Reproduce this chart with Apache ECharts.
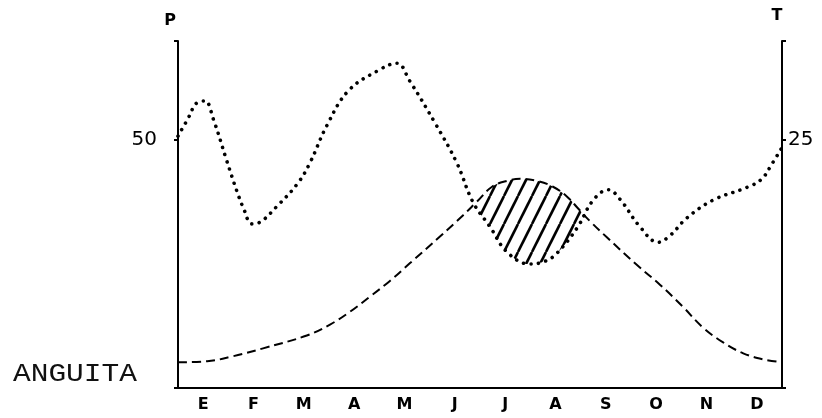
<!DOCTYPE html>
<html><head><meta charset="utf-8">
<script src="https://cdn.jsdelivr.net/npm/echarts@6/dist/echarts.min.js"></script>
<style>html,body{margin:0;padding:0;background:#fff}#c{width:822px;height:418px}</style>
</head><body><div id="c"></div>
<script>
const months = ['E','F','M','A','M','J','J','A','S','O','N','D'];
const stationName = 'ANGUITA';
const leftTickLabels = [50];
const rightTickLabels = [25];
// precipitation (mm): [month position, value]
const precipitation = [
 [0, 50.8], [0.18, 54.0], [0.40, 57.7], [0.54, 57.9], [0.70, 54.3], [0.97, 45.8], [1.17, 39.7],
 [1.30, 36.3], [1.47, 33.1], [1.62, 33.4], [1.97, 36.7], [2.38, 41.3], [2.62, 45.4], [2.96, 53.0],
 [3.38, 59.9], [3.95, 63.9], [4.35, 65.5], [4.60, 62.0], [5.11, 53.4], [5.54, 45.4], [5.86, 37.5],
 [6.20, 32.5], [6.54, 27.4], [6.99, 25.0], [7.30, 25.6], [7.53, 27.2], [7.93, 32.3], [8.25, 37.9],
 [8.55, 40.0], [8.78, 38.1], [9.18, 32.5], [9.54, 29.4], [9.78, 30.8], [10.11, 34.3], [10.63, 37.9],
 [11.31, 40.5], [11.60, 42.2], [11.80, 45.2], [12, 48.5]
];
// temperature (°C): [month position, value]
const temperature = [
 [0, 2.6], [0.58, 2.7], [1.09, 3.2], [1.69, 4.0], [2.56, 5.3], [3.02, 6.4], [3.42, 7.7], [3.81, 9.2],
 [4.21, 10.8], [4.61, 12.6], [5.21, 15.3], [5.66, 17.4], [5.94, 18.8], [6.24, 20.3], [6.54, 20.9],
 [6.80, 21.1], [7.13, 20.9], [7.45, 20.3], [7.73, 19.3], [7.95, 18.1], [8.19, 16.8], [8.52, 15.2],
 [9.12, 12.4], [9.58, 10.4], [10.03, 8.2], [10.43, 6.1], [10.83, 4.6], [11.23, 3.5], [11.62, 2.9], [12, 2.6]
];

function hatch(){
  const w = 14, h = 28;
  const c = document.createElement('canvas'); c.width = w; c.height = h;
  const g = c.getContext('2d');
  g.fillStyle = '#fff'; g.fillRect(0, 0, w, h);
  g.strokeStyle = '#000'; g.lineWidth = 2.6;
  for (const dx of [-w, 0, w]) { g.beginPath(); g.moveTo(dx, h); g.lineTo(dx + w, 0); g.stroke(); }
  return c;
}

const chart = echarts.init(document.getElementById('c'), null, {renderer: 'canvas'});
const axisCol = '#000';
chart.setOption({
  animation: false,
  backgroundColor: '#fff',
  grid: {left: 178, right: 40, top: 41, bottom: 30},
  graphic: [{
    type: 'text', left: 13, top: 362, scaleX: 1.18,
    style: {text: stationName, font: '25px "Liberation Mono"', fill: '#111'}
  }],
  xAxis: [
    {type: 'category', data: months, boundaryGap: true, z: 10,
     axisLine: {lineStyle: {color: axisCol, width: 2}},
     axisTick: {alignWithLabel: true, inside: true, length: 4, lineStyle: {color: axisCol, width: 2}},
     axisLabel: {color: '#000', fontWeight: 'bold', fontSize: 16, margin: 9, fontFamily: 'DejaVu Sans'}},
    {type: 'value', min: 0, max: 12, show: false}
  ],
  yAxis: [
    {type: 'value', min: 0, max: 70, interval: 50, position: 'left', name: 'P', nameLocation: 'end', nameGap: 12, z: 10,
     nameTextStyle: {color: '#000', fontSize: 16, fontWeight: 'bold', fontFamily: 'DejaVu Sans', align: 'center', padding: [0, 16, 0, 0]},
     axisLine: {show: true, lineStyle: {color: axisCol, width: 2}},
     axisTick: {show: true, length: 4, lineStyle: {color: axisCol, width: 2}},
     splitLine: {show: false},
     axisLabel: {color: '#000', fontSize: 20, margin: 21, fontFamily: 'DejaVu Sans',
                 formatter: v => leftTickLabels.includes(v) ? String(v) : ''}},
    {type: 'value', min: 0, max: 35, interval: 25, position: 'right', name: 'T', nameLocation: 'end', nameGap: 17, z: 10,
     nameTextStyle: {color: '#000', fontSize: 16, fontWeight: 'bold', fontFamily: 'DejaVu Sans', align: 'center', padding: [0, 10, 0, 0]},
     axisLine: {show: true, lineStyle: {color: axisCol, width: 2}},
     axisTick: {show: true, length: 4, lineStyle: {color: axisCol, width: 2}},
     splitLine: {show: false},
     axisLabel: {color: '#000', fontSize: 20, margin: 6, fontFamily: 'DejaVu Sans',
                 formatter: v => rightTickLabels.includes(v) ? String(v) : ''}}
  ],
  series: [
    {type: 'line', xAxisIndex: 1, yAxisIndex: 1, data: temperature, smooth: 0.4, showSymbol: false, silent: true, z: 1,
     lineStyle: {width: 0, opacity: 0}, areaStyle: {color: {image: hatch(), repeat: 'repeat'}, opacity: 1}},
    {type: 'line', xAxisIndex: 1, yAxisIndex: 0, data: precipitation, smooth: 0.4, showSymbol: false, silent: true, z: 2,
     lineStyle: {width: 0, opacity: 0}, areaStyle: {color: '#fff', opacity: 1}},
    {type: 'line', xAxisIndex: 1, yAxisIndex: 1, data: temperature, smooth: 0.4, showSymbol: false, z: 3,
     lineStyle: {color: '#000', width: 2, type: [9, 5]}},
    {type: 'line', xAxisIndex: 1, yAxisIndex: 0, data: precipitation, smooth: 0.4, showSymbol: false, z: 4,
     lineStyle: {color: '#000', width: 3.6, type: [0.01, 7.5], cap: 'round'}}
  ]
});
</script></body></html>
